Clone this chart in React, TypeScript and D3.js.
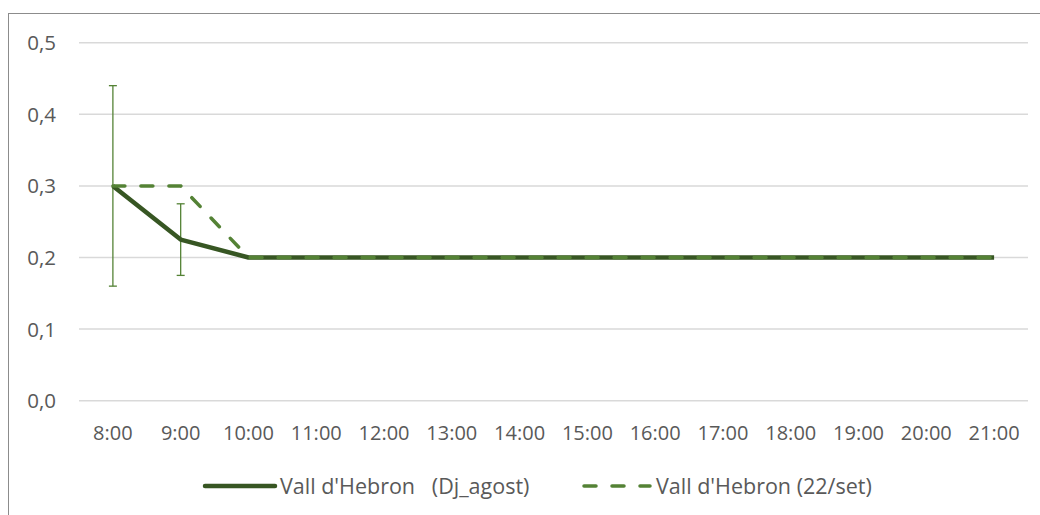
import React from "react";
import * as d3 from "d3";

const categories = ["8:00", "9:00", "10:00", "11:00", "12:00", "13:00", "14:00", "15:00", "16:00", "17:00", "18:00", "19:00", "20:00", "21:00"];
const seriesSolid = [0.3, 0.225, 0.2, 0.2, 0.2, 0.2, 0.2, 0.2, 0.2, 0.2, 0.2, 0.2, 0.2, 0.2];
const seriesDashed = [0.3, 0.3, 0.2, 0.2, 0.2, 0.2, 0.2, 0.2, 0.2, 0.2, 0.2, 0.2, 0.2, 0.2];
const errorPlus = [0.14, 0.05, 0, 0, 0, 0, 0, 0, 0, 0, 0, 0, 0, 0];
const yTicks = [0, 0.1, 0.2, 0.3, 0.4, 0.5];
const seriesNames = ["Vall d'Hebron   (Dj_agost)", "Vall d'Hebron (22/set)"];

const W = 1040, H = 515;
const FONT = "'Open Sans', sans-serif";
const TXT = "#595959";
const C_SOLID = "#375623";
const C_DASH = "#548235";

export default function App() {
  const x = d3.scaleBand<string>().domain(categories).range([79, 1028]);
  const y = d3.scaleLinear().domain([0, 0.5]).range([400.7, 42.7]);
  const cx = (c: string) => (x(c) as number) + x.bandwidth() / 2;
  const line = d3.line<number>().x((_, i) => cx(categories[i])).y((d) => y(d));

  return (
    <svg width={W} height={H} style={{ position: "absolute", left: 0, top: 0, background: "#fff" }} fontFamily={FONT}>
      <rect x={8.5} y={13.5} width={W + 20} height={H + 20} fill="#fff" stroke="#8c8c8c" strokeWidth={1} />
      {yTicks.map((t) => (
        <g key={t}>
          <line x1={79} x2={1028} y1={y(t)} y2={y(t)} stroke="#d9d9d9" strokeWidth={1.5} />
          <text x={56} y={y(t) + 7.5} textAnchor="end" fontSize={20.5} fill={TXT}>
            {d3.format(".1f")(t).replace(".", ",")}
          </text>
        </g>
      ))}
      {categories.map((c) => (
        <text key={c} x={cx(c)} y={440} textAnchor="middle" fontSize={20} fill={TXT}>{c}</text>
      ))}
      {/* error bars */}
      {categories.map((c, i) =>
        errorPlus[i] > 0 ? (
          <g key={"e" + c} stroke={C_DASH} strokeWidth={1.3}>
            <line x1={cx(c)} x2={cx(c)} y1={y(seriesSolid[i] + errorPlus[i])} y2={y(seriesSolid[i] - errorPlus[i])} />
            <line x1={cx(c) - 4} x2={cx(c) + 4} y1={y(seriesSolid[i] + errorPlus[i])} y2={y(seriesSolid[i] + errorPlus[i])} />
            <line x1={cx(c) - 4} x2={cx(c) + 4} y1={y(seriesSolid[i] - errorPlus[i])} y2={y(seriesSolid[i] - errorPlus[i])} />
          </g>
        ) : null
      )}
      <path d={line(seriesSolid) as string} fill="none" stroke={C_SOLID} strokeWidth={4.5} strokeLinejoin="round" />
      <path d={line(seriesDashed) as string} fill="none" stroke={C_DASH} strokeWidth={3.5} strokeDasharray="12,16" strokeLinecap="round" />
      {/* legend */}
      <line x1={205} x2={275} y1={486} y2={486} stroke={C_SOLID} strokeWidth={4.5} strokeLinecap="round" />
      <text x={280} y={494} fontSize={21.5} fill={TXT} style={{ whiteSpace: "pre" }}>{seriesNames[0]}</text>
      <line x1={584} x2={650} y1={486} y2={486} stroke={C_DASH} strokeWidth={3.5} strokeDasharray="12,16" strokeLinecap="round" />
      <text x={656} y={494} fontSize={21.5} fill={TXT} style={{ whiteSpace: "pre" }}>{seriesNames[1]}</text>
    </svg>
  );
}
